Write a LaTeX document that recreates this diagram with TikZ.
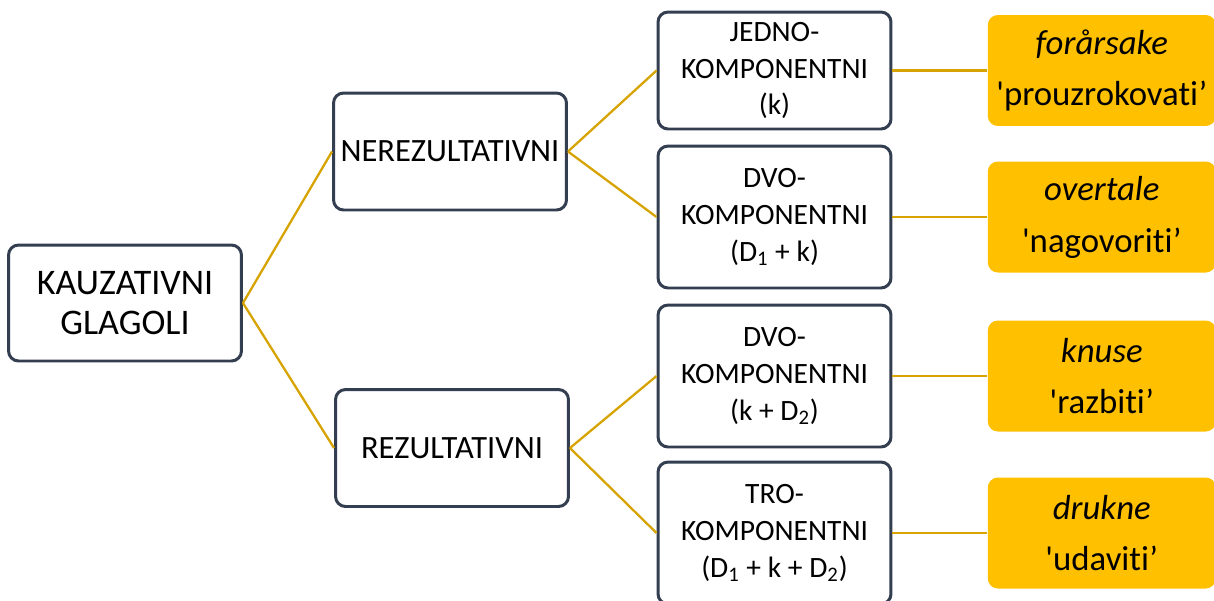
\documentclass[tikz,border=0pt]{standalone}
\usepackage{fontspec}
\setmainfont{Carlito}[Ligatures={TeX,NoCommon}]
\usetikzlibrary{positioning}
\definecolor{boxline}{HTML}{333F50}
\definecolor{gold}{HTML}{FFC000}
\definecolor{wire}{HTML}{D6A300}
\tikzset{
	kind/.style={draw=boxline,line width=1.7pt,rounded corners=0.2cm,fill=white,
		align=center,minimum width=4.66cm,inner sep=0pt,
		font=\fontsize{16.8}{21}\selectfont},
	example/.style={fill=gold,rounded corners=0.2cm,align=center,
		minimum width=4.56cm,minimum height=2.22cm,inner sep=0pt,
		font=\fontsize{19.8}{29.5}\selectfont},
	link/.style={draw=wire,line width=1.3pt}
}
\newcommand{\gl}[2]{\textit{#1}\\\textquotesingle#2'}

\begin{document}
\begin{tikzpicture}[x=0.02cm,y=-0.02cm]
  \useasboundingbox (0,0) rectangle (1214,600);
  \node [kind,minimum height=2.32cm,font=\fontsize{20.5}{23}\selectfont] (root) at (125,303) {KAUZATIVNI\\GLAGOLI};
  \node [kind,minimum height=2.34cm,font=\fontsize{18.5}{21}\selectfont] (nerez) at (450,151.5) {NEREZULTATIVNI};
  \node [kind,minimum height=2.34cm,font=\fontsize{18.5}{21}\selectfont] (rez) at (452,448) {REZULTATIVNI};
  \node [kind,minimum height=2.34cm] (jedno) at (774.5,70.5) {JEDNO-\\KOMPONENTNI\\(k)};
  \node [kind,minimum height=2.84cm] (dvoA) at (774.5,217) {DVO-\\KOMPONENTNI\\(D\textsubscript{1} + k)};
  \node [kind,minimum height=2.84cm] (dvoB) at (774.5,376) {DVO-\\KOMPONENTNI\\(k + D\textsubscript{2})};
  \node [kind,minimum height=2.84cm] (tro) at (774.5,533) {TRO-\\KOMPONENTNI\\(D\textsubscript{1} + k + D\textsubscript{2})};
  \node [example,right=1.9cm of jedno] (forarsake) {\gl{forårsake}{prouzrokovati}};
  \node [example,right=1.9cm of dvoA] (overtale) {\gl{overtale}{nagovoriti}};
  \node [example,right=1.9cm of dvoB] (knuse) {\gl{knuse}{razbiti}};
  \node [example,right=1.9cm of tro] (drukne) {\gl{drukne}{udaviti}};
  \draw [link] (root.east) -- (nerez.west);
  \draw [link] (root.east) -- (rez.west);
  \draw [link] (nerez.east) -- (jedno.west);
  \draw [link] (nerez.east) -- (dvoA.west);
  \draw [link] (rez.east) -- (dvoB.west);
  \draw [link] (rez.east) -- (tro.west);
  \draw [link] (jedno.east) -- (forarsake.west);
  \draw [link] (dvoA.east) -- (overtale.west);
  \draw [link] (dvoB.east) -- (knuse.west);
  \draw [link] (tro.east) -- (drukne.west);
\end{tikzpicture}
\end{document}
